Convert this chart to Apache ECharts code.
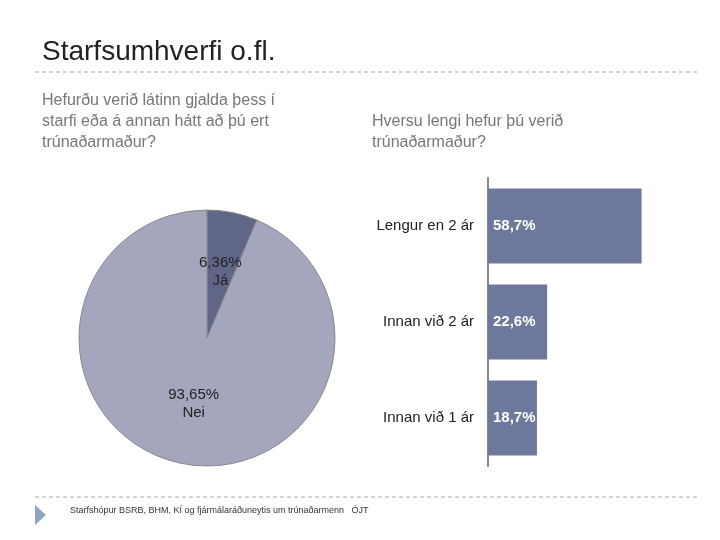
<!DOCTYPE html><html><head><meta charset="utf-8">
<script src="https://cdn.jsdelivr.net/npm/echarts@6/dist/echarts.min.js"></script>
<style>html,body{margin:0;background:#fff}#c{width:720px;height:540px}</style></head><body><div id="c"></div>
<script>
const pieNames=['Já','Nei'];
const pieValues=[6.36,93.65];
const pieLabels=['6,36%','93,65%'];
const barCats=['Innan við 1 ár','Innan við 2 ár','Lengur en 2 ár'];
const barValues=[18.7,22.6,58.7];
const barLabels=['18,7%','22,6%','58,7%'];
const f='Liberation Sans, Arial, sans-serif';
const chart=echarts.init(document.getElementById('c'));
chart.setOption({
 animation:false,
 graphic:[
  {type:'text',left:42,top:38,style:{text:'Starfsumhverfi o.fl.',font:'28px '+f,fill:'#222'}},
  {type:'line',shape:{x1:35,y1:72,x2:700,y2:72},style:{stroke:'#aaa',lineDash:[4,3],lineWidth:1}},
  {type:'text',left:42,top:90,style:{text:'Hefurðu verið látinn gjalda þess í\nstarfi eða á annan hátt að þú ert\ntrúnaðarmaður?',font:'16px '+f,fill:'#777',lineHeight:21}},
  {type:'text',left:372,top:111,style:{text:'Hversu lengi hefur þú verið\ntrúnaðarmaður?',font:'16px '+f,fill:'#777',lineHeight:21}},
  {type:'line',shape:{x1:35,y1:497,x2:700,y2:497},style:{stroke:'#aaa',lineDash:[4,3],lineWidth:1}},
  {type:'polygon',shape:{points:[[35,505],[35,525],[46,515]]},style:{fill:'#8ea4c4'}},
  {type:'text',left:70,top:506,style:{text:'Starfshópur BSRB, BHM, KÍ og fjármálaráðuneytis um trúnaðarmenn   ÓJT',font:'9px '+f,fill:'#333'}}
 ],
 grid:{left:488,top:178,width:157,height:288},
 xAxis:{type:'value',min:0,max:60,show:false},
 yAxis:{type:'category',data:barCats,axisLine:{lineStyle:{color:'#888',width:2}},axisTick:{length:5,lineStyle:{color:'#888',width:2}},
  axisLabel:{fontSize:15,fontFamily:f,color:'#222',margin:14}},
 series:[
  {type:'bar',data:barValues,barWidth:'78%',itemStyle:{color:'#6e789c'},
   label:{show:true,position:'insideLeft',offset:[0,0],color:'#fff',fontSize:15,fontWeight:'bold',fontFamily:f,
    formatter:p=>barLabels[p.dataIndex]}},
  {type:'pie',center:[207,338],radius:128,startAngle:90,clockwise:true,
   data:pieNames.map((n,i)=>({name:n,value:pieValues[i],itemStyle:{color:i?'#a3a6bd':'#5f6687'}})),
   itemStyle:{borderColor:'#888',borderWidth:1},
   label:{show:true,position:'inside',color:'#222',fontSize:15,fontFamily:f,lineHeight:18,
    formatter:p=>pieLabels[p.dataIndex]+'\n'+p.name}}
 ]
});
</script></body></html>
